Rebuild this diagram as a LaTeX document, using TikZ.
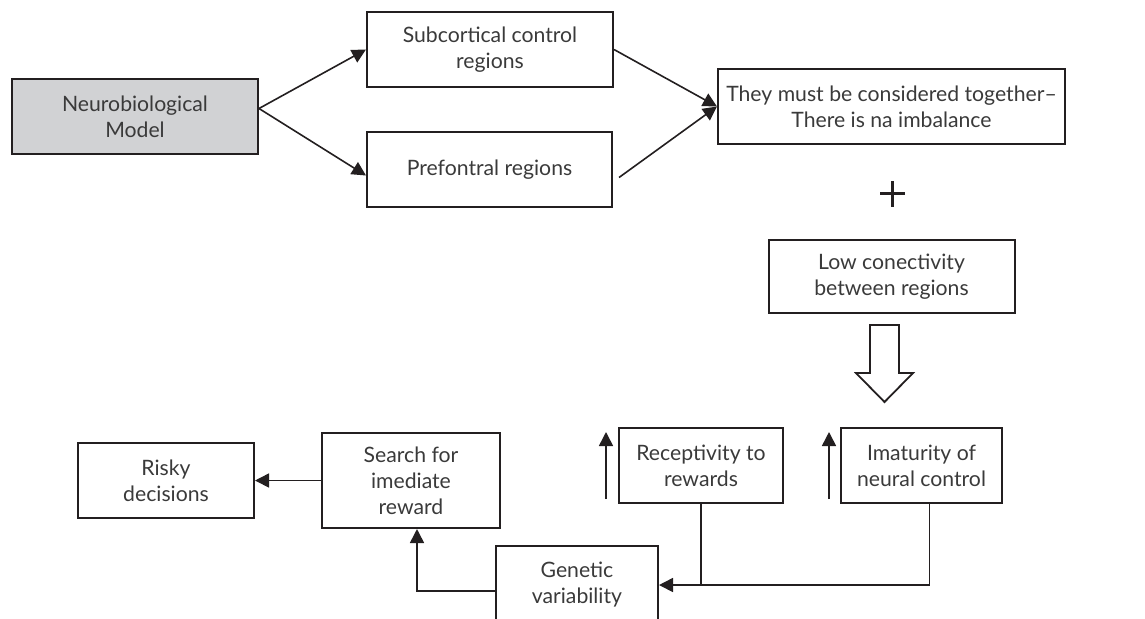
\documentclass[tikz,border=0pt]{standalone}
\usepackage{fontspec}
\setmainfont{Lato}
\usepackage{xcolor}
\usepackage{tikz}
\usetikzlibrary{arrows.meta, positioning, calc}

\definecolor{boxline}{HTML}{231F20}
\definecolor{boxtext}{HTML}{3A3A3A}
\definecolor{boxfill}{HTML}{D1D2D4}

\begin{document}
\begin{tikzpicture}[x=0.5pt, y=-0.5pt,
		box/.style={draw=boxline, line width=1pt, align=center, text=boxtext, inner sep=2pt,
			font=\fontsize{10.6}{13}\selectfont, minimum height=37.5pt},
		arr/.style={-{Triangle[length=7pt, width=7pt]}, draw=boxline, line width=0.8pt},
		line/.style={draw=boxline, line width=0.8pt}]
				\path [use as bounding box, clip] (0,0) rectangle (1145,618);
				
				% top row
				\node [box, fill=boxfill, minimum width=123pt] (neuro) at (135,116.5) {Neurobiological\\Model};
				\node [box, minimum width=123pt] (subcort) at (490,49.5) {Subcortical control\\regions};
				\node [box, minimum width=122.5pt] (prefront) at (489.5,169.5) {Prefontral regions};
				\node [box, minimum width=173.5pt] (together) at (891.5,106.5) {They must be considered together--\\There is na imbalance};
				
				\draw [arr] ([yshift=4pt]neuro.east) -- (subcort.west);
				\draw [arr] ([yshift=4pt]neuro.east) -- ([yshift=-3pt]prefront.west);
				\draw [arr] (subcort.east) -- (together.west);
				\draw [arr] ([xshift=3pt,yshift=-4pt]prefront.east) -- (together.west);
				
				% plus
				\draw [line, line width=1.4pt] (880,193.5) -- (905,193.5);
				\draw [line, line width=1.4pt] (892.5,181) -- (892.5,207);
				
				\node [box, minimum width=123pt, minimum height=36.5pt] (lowcon) at (891.5,276.5) {Low conectivity\\between regions};
				
				% hollow arrow
				\draw [line, line width=0.9pt] (870,325) -- (899,325) -- (899,373) -- (913,373) -- (884.5,402) -- (856,373) -- (870,373) -- cycle;
				
				% bottom row
				\node [box, minimum width=82pt] (recept) at (701,465.5) {Receptivity to\\rewards};
				\node [box, minimum width=80.5pt] (imat) at (921.5,465.5) {Imaturity of\\neural control};
				\node [box, minimum width=81pt, minimum height=39pt] (genetic) at (577,585) {Genetic\\variability};
				\node [box, minimum width=89pt, minimum height=47.5pt] (search) at (411,480.5) {Search for\\imediate\\reward};
				\node [box, minimum width=88pt] (risky) at (166,480.5) {Risky\\decisions};
				
				\draw [arr] ([xshift=-6pt,yshift=2.5pt]recept.south west) -- ([xshift=-6pt,yshift=-2.5pt]recept.north west);
				\draw [arr] ([xshift=-5.5pt,yshift=2.5pt]imat.south west) -- ([xshift=-5.5pt,yshift=-2.5pt]imat.north west);
				
				\draw [line] (recept.south) -- (recept.south |- genetic.east);
				\draw [arr] ([xshift=4pt]imat.south) |- (genetic.east);
				\draw [arr] ([yshift=-3pt]genetic.west) -| ([xshift=3pt]search.south);
				\draw [arr] (search.west) -- (risky.east);
\end{tikzpicture}
\end{document}
